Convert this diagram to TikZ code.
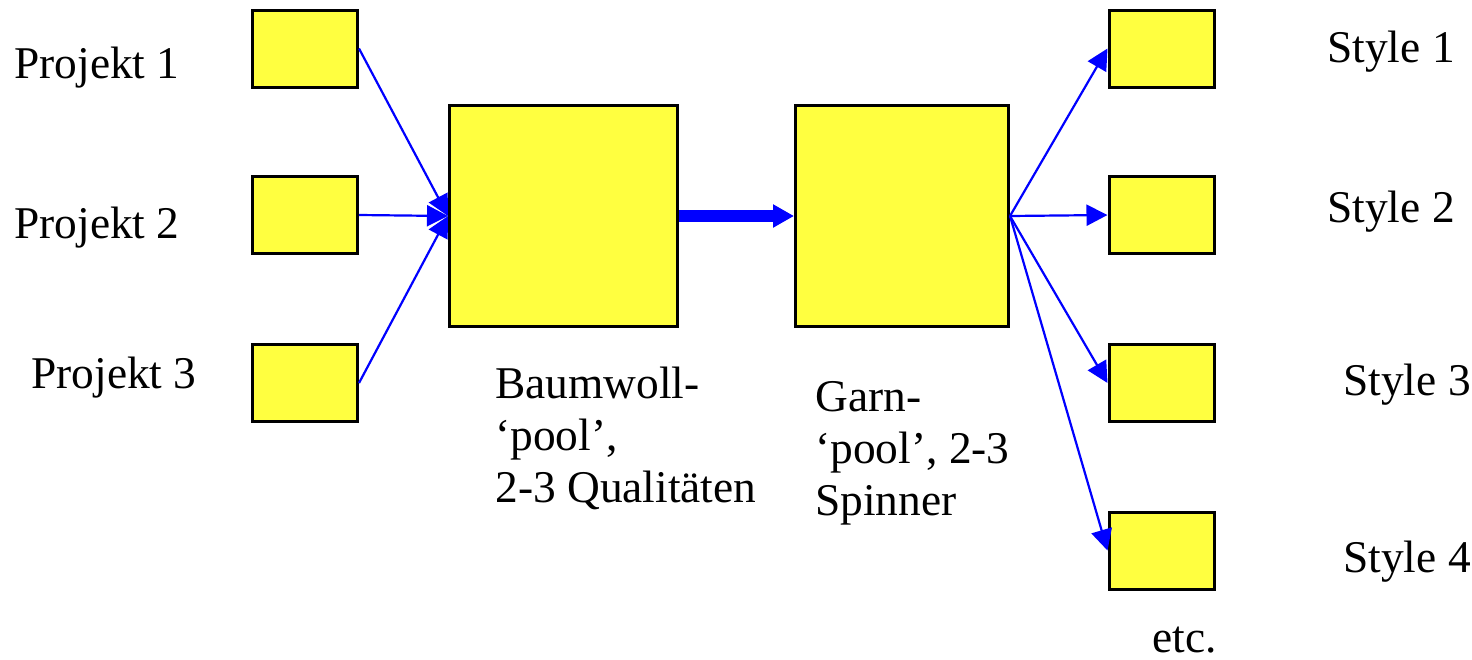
\documentclass[tikz,border=0pt]{standalone}
\usepackage{fontspec}
\setmainfont{Liberation Serif}
\usetikzlibrary{arrows.meta}
\definecolor{boxyellow}{RGB}{255,255,64}
\begin{document}
\begin{tikzpicture}[x=0.5pt,y=-0.5pt,
  sbox/.style={draw=black, line width=1.5pt, fill=boxyellow, minimum width=52.5pt, minimum height=38.5pt, inner sep=0pt},
  bigbox/.style={draw=black, line width=1.5pt, fill=boxyellow, inner sep=0pt},
  lbl/.style={anchor=base west, inner sep=0pt, align=left, font=\fontsize{22.7pt}{26pt}\selectfont},
  thinarrow/.style={draw=blue, line width=1.1pt, -{Triangle[length=10.5pt,width=10.5pt]}},
  thickarrow/.style={draw=blue, line width=6pt, -{Triangle[length=10.5pt,width=11pt]}}]
\useasboundingbox (0,0) rectangle (1472,659);

% left boxes
\node[sbox] (p1) at (305,48.5) {};
\node[sbox] (p2) at (305,215) {};
\node[sbox] (p3) at (305,383) {};
% big boxes
\node[bigbox, minimum width=114pt, minimum height=110.5pt] (b1) at (563.5,216) {};
\node[bigbox, minimum width=106.5pt, minimum height=110.5pt] (b2) at (902,216) {};
% right boxes
\node[sbox] (s1) at (1161.5,48.5) {};
\node[sbox] (s2) at (1161.5,215) {};
\node[sbox] (s3) at (1161.5,383) {};
\node[sbox] (s4) at (1161.5,550.5) {};

% connectors
\draw[thinarrow] (p1.east) -- (b1.west);
\draw[thinarrow] (p2.east) -- (b1.west);
\draw[thinarrow] (p3.east) -- (b1.west);
\draw[thickarrow] (b1.east) -- (b2.west);
\draw[thinarrow] (b2.east) -- (s1.west);
\draw[thinarrow] (b2.east) -- (s2.west);
\draw[thinarrow] (b2.east) -- (s3.west);
\draw[thinarrow] (b2.east) -- (s4.west);

% labels
\node[lbl] (tp1) at (14,78) {Projekt 1};
\node[lbl] (tp2) at (14,238) {Projekt 2};
\node[lbl] (tp3) at (31,388) {Projekt 3};
\node[lbl] (tb1) at (495,502) {Baumwoll-\\‘pool’,\\2-3 Qualitäten};
\node[lbl] (tb2) at (815,515) {Garn-\\‘pool’, 2-3\\Spinner};
\node[lbl] (ts1) at (1327,62) {Style 1};
\node[lbl] (ts2) at (1327,222) {Style 2};
\node[lbl] (ts3) at (1343,395) {Style 3};
\node[lbl] (ts4) at (1343,572) {Style 4};
\node[lbl] (tetc) at (1152,652) {etc.};
\end{tikzpicture}
\end{document}
